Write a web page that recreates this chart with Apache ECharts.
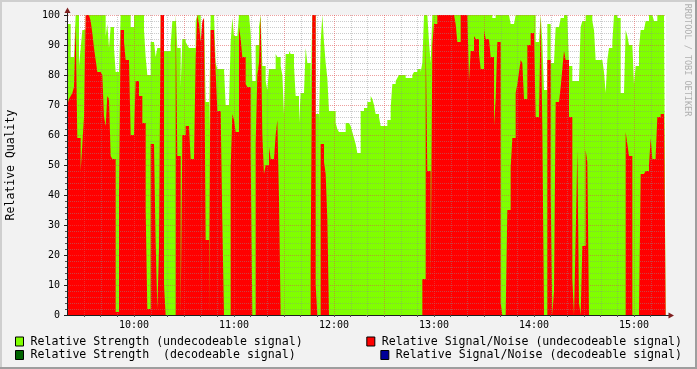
<!DOCTYPE html>
<html><head><meta charset="utf-8">
<script src="https://cdn.jsdelivr.net/npm/echarts@6.0.0/dist/echarts.min.js"></script>
<style>html,body{margin:0;padding:0;background:#f2f2f2}#c{width:697px;height:369px}</style>
</head><body><div id="c"></div><script>
// ---- data (one sample per minute, starting 09:20) ----
const startMinute = 560; // 09:20
const strengthUndecodeable = [
97,97,86,86,86,100,100,83,89,95,
95,100,100,100,100,100,100,100,100,100,
100,100,100,93,97,89,96,96,89,81,
81,81,100,100,100,100,100,100,96,96,
100,100,100,100,100,100,95,86,80,80,
91,91,91,86,89,89,100,100,88,88,
88,88,90,98,98,100,89,89,76,92,
92,91,90,89,89,89,89,98,100,100,
91,91,100,71,71,61,100,100,100,84,
82,82,82,82,82,70,70,70,91,99,
93,93,93,100,100,100,100,100,100,100,
94,78,78,90,90,96,100,83,83,78,
75,82,82,82,82,87,86,86,83,80,
67,87,87,88,87,87,83,73,73,64,
74,74,74,89,84,84,74,100,100,67,
67,64,91,100,91,84,79,68,68,68,
68,64,62,61,61,61,61,64,64,64,
63,61,59,57,54,54,68,68,69,69,
71,71,73,72,70,67,67,66,63,63,
63,63,65,65,69,77,77,78,79,80,
80,80,80,79,79,79,79,80,81,81,
82,82,81,84,100,100,100,91,84,100,
100,100,100,100,100,100,100,100,100,100,
100,100,100,100,100,100,100,100,100,100,
100,100,100,100,100,100,100,100,100,100,
100,100,100,100,100,99,99,100,100,100,
100,100,100,100,100,100,97,97,97,100,
100,100,100,100,100,100,100,100,100,100,
100,91,91,91,100,91,75,75,97,97,
84,84,84,96,96,96,99,99,100,100,
100,83,83,78,78,78,78,78,96,98,
98,100,100,100,100,98,95,85,85,85,
85,85,81,74,85,89,89,91,100,100,
99,99,74,74,74,95,93,90,90,90,
77,83,83,89,95,95,95,98,98,100,
100,100,98,98,100,100,100,100,100
];
const snrUndecodeable = [
70,72,73,74,76,97,59,59,48,57,
66,100,100,100,98,94,89,85,81,81,
81,80,66,63,73,72,53,52,52,1,
1,40,95,95,91,85,85,85,60,60,
60,78,78,73,73,64,64,35,2,2,
57,57,57,24,2,22,100,100,10,0,
0,0,0,0,0,100,53,53,0,60,
60,63,63,63,52,52,52,86,100,97,
91,98,99,25,25,0,95,95,94,81,
68,68,68,31,0,0,0,0,49,67,
65,61,61,96,92,86,86,77,76,76,
54,0,0,57,80,84,100,60,47,50,
50,56,52,52,52,60,65,39,0,0,
0,0,0,0,0,0,0,0,0,0,
0,0,0,0,0,0,17,100,100,10,
0,0,57,57,51,47,32,0,0,0,
0,0,0,0,0,0,0,0,0,0,
0,0,0,0,0,0,0,0,0,0,
0,0,0,0,0,0,0,0,0,0,
0,0,0,0,0,0,0,0,0,0,
0,0,0,0,0,0,0,0,0,0,
0,0,0,12,12,93,48,48,12,90,
97,97,100,100,100,100,100,100,100,100,
100,100,100,97,91,91,100,100,100,100,
100,78,88,88,93,92,92,87,82,82,
95,92,92,92,86,86,63,72,91,91,
4,0,0,0,35,35,49,59,59,74,
77,81,85,84,72,72,90,90,94,94,
94,66,66,66,100,63,0,0,85,85,
41,0,8,71,71,71,76,82,88,85,
85,66,66,12,0,26,55,4,0,23,
23,55,51,0,0,0,0,0,0,0,
0,0,0,0,0,0,0,0,0,0,
0,0,0,0,0,61,57,53,53,0,
0,0,0,0,47,47,47,48,48,50,
59,52,52,53,66,66,67,67,68
];
const strengthDecodeable = [];
const snrDecodeable = [];
const timeLabels = ['10:00','11:00','12:00','13:00','14:00','15:00'];
const yTickLabels = [0,10,20,30,40,50,60,70,80,90,100];
const seriesNames = [
  'Relative Strength (undecodeable signal)',
  'Relative Signal/Noise (undecodeable signal)',
  'Relative Strength  (decodeable signal)',
  'Relative Signal/Noise (decodeable signal)'
];
const seriesColors = ['#80ff00', '#ff0000', '#006400', '#000099'];

// ---- helpers ----
const FONT = 'DejaVu Sans Mono';
function toMin(s){ const p = s.split(':'); return (+p[0])*60 + (+p[1]); }
function fmt(v){ const h = Math.floor(v/60), m = Math.round(v%60); return h + ':' + (m<10?'0':'') + m; }
function stepData(arr){
  const d = arr.map((v,i)=>[startMinute+i, v]);
  if (arr.length) d.push([startMinute+arr.length, arr[arr.length-1]]);
  return d;
}
const xMin = 559.8, xMax = 919.2;
const labelMinutes = timeLabels.map(toMin);
const tickMinutes = [];
for (let t = 570; t < xMax; t += 10) tickMinutes.push(t);
// grid lines: [x, y, kind(0=h,1=v), major]
const gridLines = [];
for (let v = 2; v <= 100; v += 2) gridLines.push([xMin, v, 0, v % 10 === 0 ? 1 : 0]);
for (const t of tickMinutes) gridLines.push([t, 0, 1, t % 30 === 0 ? 1 : 0]);

function renderGrid(params, api){
  const cs = params.coordSys;
  const kind = api.value(2), major = api.value(3);
  let shape;
  if (kind === 0){
    const p = api.coord([xMin, api.value(1)]);
    const y = Math.round(p[1]) + 0.5;
    shape = {x1: cs.x + 1, y1: y, x2: cs.x + cs.width, y2: y};
  } else {
    const p = api.coord([api.value(0), 0]);
    const x = Math.round(p[0]) + 0.5;
    shape = {x1: x, y1: cs.y, x2: x, y2: cs.y + cs.height};
  }
  return {type:'line', shape, silent:true,
    style:{stroke: major ? 'rgba(222,79,79,0.55)' : 'rgba(143,143,143,0.45)', lineWidth:1, lineDash:[1,1]}};
}

function areaSeries(idx, arr){
  return {type:'line', name: seriesNames[idx], step:'end', data: stepData(arr),
    symbol:'none', showSymbol:false, z:2,
    itemStyle:{color: seriesColors[idx]},
    lineStyle:{width:0, opacity:0},
    areaStyle:{color: seriesColors[idx], opacity:1}};
}

const legendText = {fontFamily: FONT, fontSize: 11.6, color:'#000', lineHeight:14, padding:[0,0,0,2]};
function legendItem(idx){ return {name: seriesNames[idx], icon:'rect', itemStyle:{color: seriesColors[idx], borderColor:'#000', borderWidth:1}}; }

const chart = echarts.init(document.getElementById('c'), null, {renderer:'canvas', width:697, height:369});
chart.setOption({
  animation:false,
  backgroundColor:'#f2f2f2',
  grid:{left:67, top:15, width:599, height:300, show:true, backgroundColor:'#ffffff', borderWidth:0},
  xAxis:{type:'value', min:xMin, max:xMax, z:6,
    axisLine:{show:true, onZero:false, lineStyle:{color:'#1f1f1f', width:1}},
    axisTick:{show:true, customValues: tickMinutes, length:2, lineStyle:{color:'#555'}},
    axisLabel:{customValues: labelMinutes, formatter: fmt, fontFamily: FONT, fontSize:10, color:'#000', margin:5},
    splitLine:{show:false}},
  yAxis:{type:'value', min:0, max:100, interval:10, z:6,
    axisLine:{show:true, lineStyle:{color:'#1f1f1f', width:1}},
    axisTick:{show:true, length:3, lineStyle:{color:'#1f1f1f'}},
    minorTick:{show:true, splitNumber:5, length:2, lineStyle:{color:'#555'}},
    axisLabel:{fontFamily: FONT, fontSize:10, color:'#000', margin:7,
      formatter: v => yTickLabels.indexOf(v) >= 0 ? String(v) : ''},
    splitLine:{show:false}},
  legend:[
    {left:15, top:334.5, padding:0, itemWidth:8, itemHeight:9, itemGap:63.6, selectedMode:false,
     textStyle: legendText, data:[legendItem(0), legendItem(1)]},
    {left:15, top:348, padding:0, itemWidth:8, itemHeight:9, itemGap:84.6, selectedMode:false,
     textStyle: legendText, data:[legendItem(2), legendItem(3)]}
  ],
  series:[
    areaSeries(0, strengthUndecodeable),
    areaSeries(1, snrUndecodeable),
    areaSeries(2, strengthDecodeable),
    areaSeries(3, snrDecodeable),
    {type:'custom', renderItem: renderGrid, data: gridLines, encode:{x:0, y:1}, z:4, silent:true, clip:false}
  ],
  graphic:[
    {type:'rect', shape:{x:0, y:0, width:697, height:2}, style:{fill:'#cfcfcf'}, silent:true},
    {type:'rect', shape:{x:0, y:0, width:2, height:369}, style:{fill:'#cfcfcf'}, silent:true},
    {type:'rect', shape:{x:695, y:0, width:2, height:369}, style:{fill:'#9e9e9e'}, silent:true},
    {type:'rect', shape:{x:0, y:367, width:697, height:2}, style:{fill:'#9e9e9e'}, silent:true},
    {type:'line', shape:{x1:67.5, y1:15, x2:67.5, y2:11}, style:{stroke:'#1f1f1f', lineWidth:1}, silent:true},
    {type:'polygon', shape:{points:[[64.5,13],[70.5,13],[67.5,7.5]]}, style:{fill:'#7f1f1f'}, silent:true},
    {type:'line', shape:{x1:666, y1:315.5, x2:669, y2:315.5}, style:{stroke:'#1f1f1f', lineWidth:1}, silent:true},
    {type:'polygon', shape:{points:[[668.5,312.5],[668.5,318.5],[674,315.5]]}, style:{fill:'#7f1f1f'}, silent:true},
    {type:'text', x:11, y:165, rotation:Math.PI/2, silent:true,
     style:{text:'Relative Quality', font:'11.5px "DejaVu Sans Mono"', fill:'#000', align:'center', verticalAlign:'middle'}},
    {type:'text', x:687, y:60, rotation:-Math.PI/2, silent:true,
     style:{text:'RRDTOOL / TOBI OETIKER', font:'8.5px "DejaVu Sans Mono"', fill:'#b0b0b0', align:'center', verticalAlign:'middle'}}
  ]
});
</script></body></html>
